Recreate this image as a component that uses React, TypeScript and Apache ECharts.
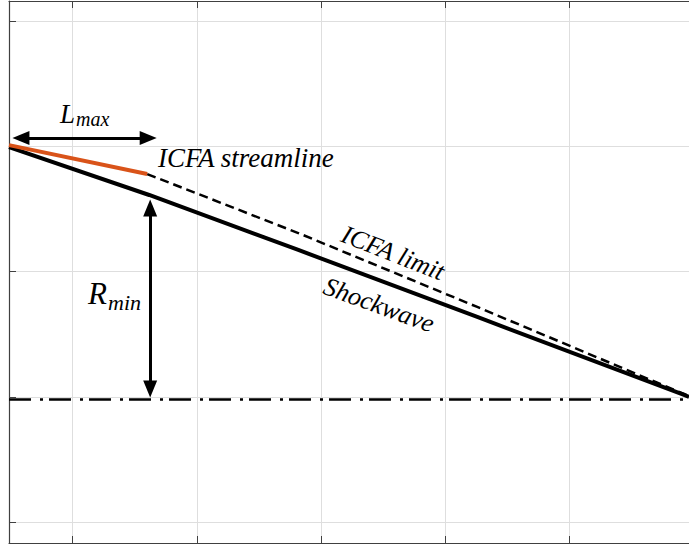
import React, { useEffect, useRef } from "react";
import * as echarts from "echarts";

// axis ticks (labels are not shown in the figure)
const xTicks = [0, 1, 2, 3, 4];
const yTicks = [-1, 0, 1, 2, 3];
const xMin = -0.512;
const xMax = 4.96;
const yMin = -1.166;
const yMax = 3.162;

// Shockwave (solid black)
const shockX = [-0.512, 0.616, 1.816, 3.256, 4.92, 4.96];
const shockY = [1.996, 1.613, 1.174, 0.639, 0.016, 0.0];

// ICFA limit (dashed)
const limitX = [0.6, 1.816, 3.256, 4.92, 4.96];
const limitY = [1.78, 1.309, 0.719, 0.024, 0.005];

// ICFA streamline (orange)
const streamX = [-0.512, 0.6];
const streamY = [2.011, 1.78];

// symmetry axis (dash-dot)
const axisLineX = [-0.512, 4.96];
const axisLineY = [-0.02, -0.02];

// dimension arrows
const lmaxArrowX = [-0.416, 0.608];
const lmaxArrowY = [2.068, 2.068];
const rminArrowX = [0.624, 0.624];
const rminArrowY = [1.509, 0.064];

const pairs = (xs: number[], ys: number[]) => xs.map((x, i) => [x, ys[i]]);

const FONT = "Liberation Serif";
const FRAME = "#404040";

export default function App() {
  const ref = useRef<HTMLDivElement>(null);

  useEffect(() => {
    const chart = echarts.init(ref.current!, null, { renderer: "svg" });

    const xAxisBase = (position: string, grid: boolean) => ({
      type: "value",
      position,
      min: xMin,
      max: xMax,
      axisLine: { show: true, onZero: false, lineStyle: { color: FRAME, width: 1.2 } },
      axisTick: { show: true, inside: true, length: 7, customValues: xTicks, lineStyle: { color: FRAME, width: 1 } },
      axisLabel: { show: false, customValues: xTicks },
      splitLine: { show: grid, lineStyle: { color: "#dedede", width: 1 } },
    });
    const yAxisBase = (position: string, grid: boolean, line: boolean) => ({
      type: "value",
      position,
      min: yMin,
      max: yMax,
      axisLine: { show: line, onZero: false, lineStyle: { color: FRAME, width: 1.2 } },
      axisTick: { show: line, inside: true, length: 7, customValues: yTicks, lineStyle: { color: FRAME, width: 1 } },
      axisLabel: { show: false, customValues: yTicks },
      splitLine: { show: grid, lineStyle: { color: "#dedede", width: 1 } },
    });

    const italic = (text: string, x: number, y: number, size: number, extra: any = {}) => ({
      type: "text",
      x,
      y,
      z: 100,
      ...extra,
      style: {
        text,
        fontFamily: FONT,
        fontStyle: "italic",
        fontWeight: "normal",
        fontSize: size,
        fill: "#000",
        align: extra.align || "left",
        verticalAlign: "middle",
      },
    });

    chart.setOption({
      animation: false,
      backgroundColor: "#ffffff",
      grid: { left: 9, top: 1, right: -4, bottom: 3, containLabel: false },
      xAxis: [xAxisBase("bottom", true), xAxisBase("top", false)],
      yAxis: [yAxisBase("left", true, true), yAxisBase("right", false, false)],
      series: [
        {
          name: "Symmetry axis",
          type: "line",
          data: pairs(axisLineX, axisLineY),
          showSymbol: false,
          lineStyle: { color: "#000", width: 2.6, type: [22, 9, 3, 6] },
          z: 3,
        },
        {
          name: "ICFA limit",
          type: "line",
          data: pairs(limitX, limitY),
          showSymbol: false,
          lineStyle: { color: "#000", width: 2.5, type: [9, 5] },
          z: 4,
        },
        {
          name: "Shockwave",
          type: "line",
          data: pairs(shockX, shockY),
          showSymbol: false,
          lineStyle: { color: "#000", width: 4 },
          z: 5,
        },
        {
          name: "ICFA streamline",
          type: "line",
          data: pairs(streamX, streamY),
          showSymbol: false,
          lineStyle: { color: "#D95319", width: 4 },
          z: 6,
        },
        {
          name: "arrows",
          type: "line",
          data: [],
          z: 7,
          markLine: {
            silent: true,
            animation: false,
            symbol: ["triangle", "triangle"],
            symbolSize: [14, 17],
            label: { show: false },
            lineStyle: { color: "#000", width: 3, type: "solid" },
            itemStyle: { color: "#000" },
            data: [
              [
                { coord: [lmaxArrowX[0], lmaxArrowY[0]] },
                { coord: [lmaxArrowX[1], lmaxArrowY[1]] },
              ],
              [
                { coord: [rminArrowX[0], rminArrowY[0]] },
                { coord: [rminArrowX[1], rminArrowY[1]] },
              ],
            ],
          },
        },
      ],
      graphic: [
        italic("L", 60, 113.5, 27),
        italic("max", 76, 119, 20),
        italic("ICFA streamline", 158, 157.5, 27),
        italic("R", 88, 293.5, 31),
        italic("min", 108, 302.5, 22),
        italic("ICFA limit", 393, 253, 26, { align: "center", rotation: (-21.5 * Math.PI) / 180 }),
        italic("Shockwave", 379, 305, 26, { align: "center", rotation: (-20 * Math.PI) / 180 }),
      ],
    });

    return () => chart.dispose();
  }, []);

  return (
    <div
      ref={ref}
      style={{ position: "fixed", left: 0, top: 0, width: 689, height: 546, background: "#fff" }}
    />
  );
}
